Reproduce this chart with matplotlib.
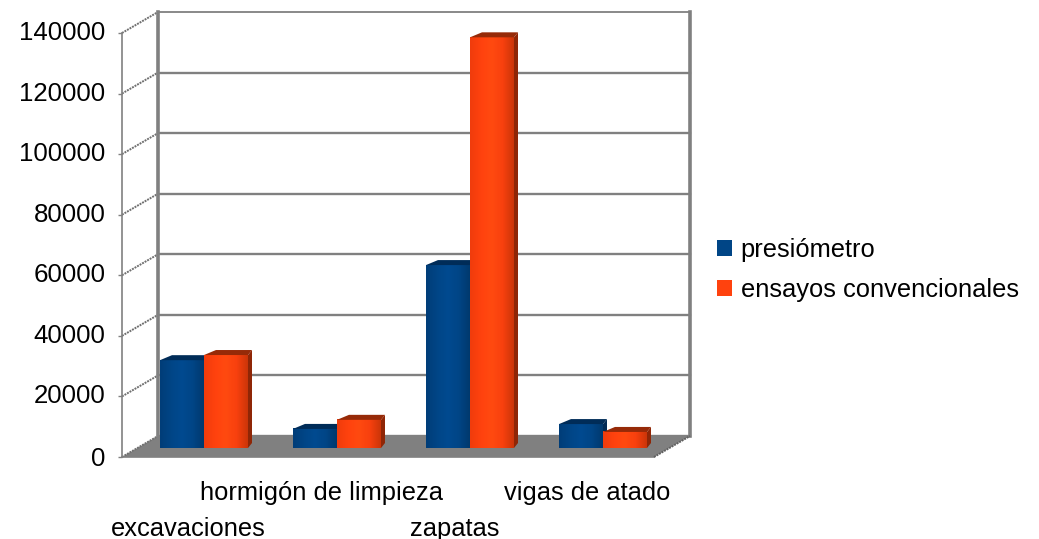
import numpy as np
import matplotlib
matplotlib.use('Agg')
import matplotlib.pyplot as plt
from matplotlib.colors import LinearSegmentedColormap
from matplotlib.patches import Patch, Polygon
from matplotlib.transforms import ScaledTranslation

plt.rcParams['font.family'] = ['Liberation Sans', 'DejaVu Sans']

categories = ['excavaciones', 'hormigón de limpieza', 'zapatas', 'vigas de atado']
presiometro = [29000, 6300, 60400, 7900]
convencionales = [30700, 9300, 135600, 5300]
y_ticks = [0, 20000, 40000, 60000, 80000, 100000, 120000, 140000]

W, H = 1039, 539
fig = plt.figure(figsize=(W / 100, H / 100), dpi=100, facecolor='white')
ax = fig.add_axes([122 / W, (H - 457) / H, 532 / W, 424 / H])

# size of one pixel in data units
px = 4 / 532
py = 140000 / 424
# depth of the 3d box
dx = 36 * px
dy = 21 * py
grey = '#808080'

# floor
ax.add_patch(Polygon([(0, 0), (dx, dy), (4 + dx, dy), (4, 0)], fc=grey, ec='none', zorder=1, clip_on=False))

# back wall and side wall grid
for v in y_ticks:
    ax.plot([dx, 4 + dx], [v + dy, v + dy], color=grey, lw=1.7 if v < 140000 else 1.3, zorder=1, clip_on=False)
    ax.plot([0, dx], [v, v + dy], color='#707070', lw=1.4, ls=(0, (1, 0.5)), zorder=1, clip_on=False)
ax.plot([dx, dx], [dy, 140000 + dy], color=grey, lw=2.6, zorder=2, clip_on=False)
ax.plot([4 + dx, 4 + dx], [dy, 140000 + dy], color=grey, lw=2.6, zorder=2, clip_on=False)
ax.plot([0, 0], [0, 140000], color=grey, lw=1.2, zorder=2, clip_on=False)
ax.plot([0, 4], [0, 0], color=grey, lw=1.2, zorder=2, clip_on=False)
ax.plot([4, 4 + dx], [0, dy], color='#606060', lw=1.4, ls=(0, (1, 0.5)), zorder=2, clip_on=False)

blue_cm = LinearSegmentedColormap.from_list('b', ['#003d78', '#004586', '#004a90', '#004586', '#00396e'])
orange_cm = LinearSegmentedColormap.from_list('o', ['#f03c0c', '#ff420e', '#ff4a10', '#f8400e', '#cc3509'])
grad = np.linspace(0, 1, 64).reshape(1, -1)


def draw_bar(x0, val, cm, side, top, z):
    w = 44 * px
    d = 4 * px
    rise = 5 * py
    base = 9 * py
    t = val + base
    ax.imshow(grad, cmap=cm, extent=(x0, x0 + w, base, t), aspect='auto', zorder=z, clip_on=False)
    ax.add_patch(Polygon([(x0 + w, base), (x0 + w + d, base + rise), (x0 + w + d, t + rise), (x0 + w, t)],
                         fc=side, ec='none', zorder=z, clip_on=False))
    ax.add_patch(Polygon([(x0, t), (x0 + d * 3, t + rise), (x0 + w + d, t + rise), (x0 + w, t)],
                         fc=top, ec='none', zorder=z, clip_on=False))


for i in range(len(categories)):
    draw_bar(i + 38 * px, presiometro[i], blue_cm, '#002a55', '#002c58', 5 + i)
    draw_bar(i + 82 * px, convencionales[i], orange_cm, '#8f2606', '#962a08', 5.5 + i)

ax.set_xlim(0, 4)
ax.set_ylim(0, 140000)
ax.patch.set_visible(False)
for s in ax.spines.values():
    s.set_visible(False)

ax.set_yticks(y_ticks)
ax.set_yticklabels([str(v) for v in y_ticks], fontsize=18.6, color='black')
ax.tick_params(axis='y', length=3, width=1, color=grey, pad=9)
# labels sit a little higher than the ticks, except for the zero
for v, lab in zip(y_ticks, ax.get_yticklabels()):
    off = 2.5 if v > 0 else 0
    lab.set_transform(lab.get_transform() + ScaledTranslation(0, off / 100, fig.dpi_scale_trans))
ax.set_xticks(np.arange(len(categories)) + 0.5)
ax.set_xticklabels(categories, fontsize=18.4, color='black')
ax.tick_params(axis='x', length=0)
for i, t in enumerate(ax.xaxis.get_major_ticks()):
    t.set_pad(43 if i % 2 == 0 else 17)

handles = [Patch(fc='#004586', label='presiómetro'), Patch(fc='#ff420e', label='ensayos convencionales')]
fig.legend(handles=handles, loc='center left', bbox_to_anchor=(694 / W, 1 - 270 / H), frameon=False,
           fontsize=18.4, handlelength=0.6, handleheight=0.6, handletextpad=0.32, labelspacing=0.62)

fig.savefig('out.png', dpi=100, facecolor='white')
